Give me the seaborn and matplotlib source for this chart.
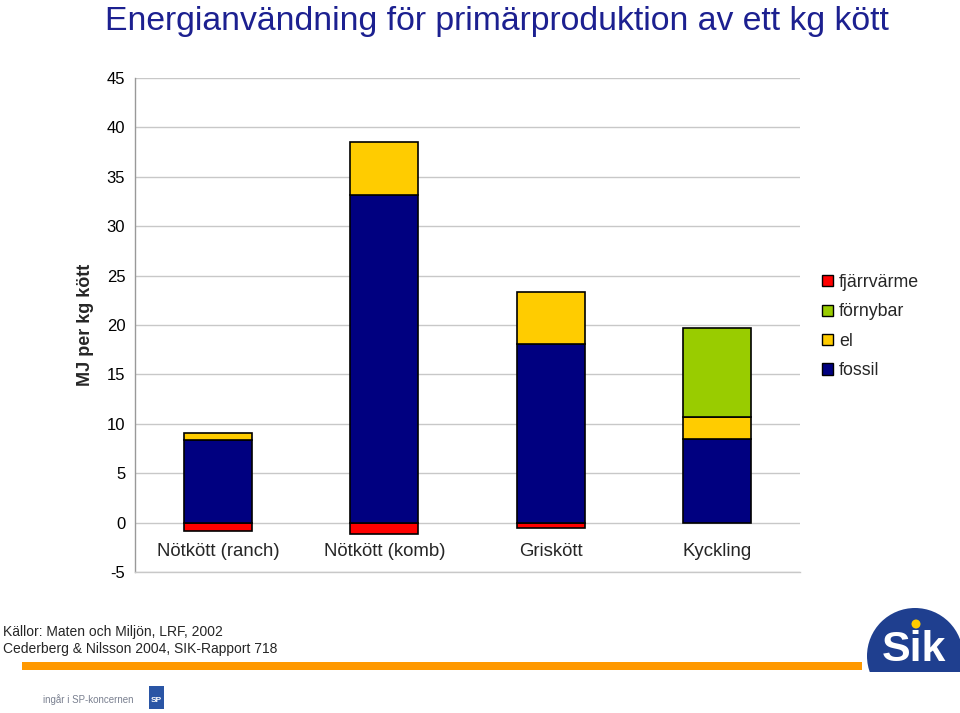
import matplotlib
matplotlib.use("Agg")
import matplotlib.pyplot as plt
import seaborn as sns
import pandas as pd
import numpy as np
from matplotlib.patches import Patch, Circle, Rectangle

# ---- data ----
categories = ["Nötkött (ranch)", "Nötkött (komb)", "Griskött", "Kyckling"]
fossil = [8.4, 33.2, 18.1, 8.5]
el = [0.7, 5.3, 5.2, 2.2]
fornybar = [0.0, 0.0, 0.0, 9.0]
fjarrvarme = [-0.8, -1.2, -0.5, 0.0]
series_names = ["fjärrvärme", "förnybar", "el", "fossil"]
yticks = list(range(-5, 50, 5))
title = "Energianvändning för primärproduktion av ett kg kött"
ylabel = "MJ per kg kött"
sources = ["Källor: Maten och Miljön, LRF, 2002",
           "Cederberg & Nilsson 2004, SIK-Rapport 718"]

colors = {"fossil": "#000080", "el": "#FFCC00", "förnybar": "#99CC00", "fjärrvärme": "#FF0000"}

sns.set_style("white")
plt.rcParams["font.family"] = ["Liberation Sans", "DejaVu Sans"]

df = pd.DataFrame({"cat": categories, "fossil": fossil, "el": el,
                   "fornybar": fornybar, "fjarrvarme": fjarrvarme})
df["el_bottom"] = df["fossil"]
df["forn_bottom"] = df["fossil"] + df["el"]

fig = plt.figure(figsize=(9.6, 7.13), dpi=100)

# background decoration axes in pixel coords
bg = fig.add_axes([0, 0, 1, 1], zorder=0)
bg.set_xlim(0, 960)
bg.set_ylim(713, 0)
bg.axis("off")

ax = fig.add_axes([135/960, 1-572/713, 665/960, 494/713], zorder=1)
ax.patch.set_alpha(0)

W = 0.41
common = dict(width=W, edgecolor="black", linewidth=1.2, order=categories, ax=ax, zorder=3)
sns.barplot(data=df, x="cat", y="fjarrvarme", color=colors["fjärrvärme"], saturation=1, **common)
sns.barplot(data=df, x="cat", y="fossil", color=colors["fossil"], saturation=1, **common)
sns.barplot(data=df, x="cat", y="el", bottom=df["el_bottom"].values, color=colors["el"], saturation=1, **common)
sns.barplot(data=df, x="cat", y="fornybar", bottom=df["forn_bottom"].values, color=colors["förnybar"], saturation=1, **common)
# remove zero-height patches
for p in ax.patches:
    if abs(p.get_height()) < 1e-9:
        p.set_visible(False)

ax.set_xlim(-0.5, 3.5)
ax.set_ylim(-5, 45)
ax.set_yticks(yticks)
ax.set_yticklabels([str(t) for t in yticks], fontsize=12)
ax.tick_params(axis="y", length=4, color="#999999", pad=3, labelcolor="black")
ax.set_xticks([])
ax.set_xlabel("")
ax.yaxis.grid(True, color="#c8c8c8", linewidth=1, zorder=0)
ax.set_axisbelow(True)
for s in ["top", "right"]:
    ax.spines[s].set_visible(False)
ax.spines["left"].set_color("#999999")
ax.spines["left"].set_linewidth(1)
ax.spines["bottom"].set_color("#c8c8c8")
ax.spines["bottom"].set_linewidth(1)

ax.set_ylabel(ylabel, fontsize=13, fontweight="bold")
ax.yaxis.set_label_coords(-0.061, 0.5)

for i, c in enumerate(categories):
    ax.text(i, -2.9, c, ha="center", va="center", fontsize=13.4)

handles = [Patch(facecolor=colors[n], edgecolor="black", linewidth=1) for n in series_names]
fig.legend(handles, series_names, loc="upper left", bbox_to_anchor=(806/960, 1-258/713),
           frameon=False, fontsize=12.8, handlelength=0.6, handleheight=0.6,
           handletextpad=0.35, labelspacing=0.7)

fig.text(105/960, 1-30/713, title, fontsize=24.3, color="#1c2090", ha="left", va="baseline")

bg.text(3, 632, sources[0], fontsize=10, ha="left", va="center")
bg.text(3, 649, sources[1], fontsize=10, ha="left", va="center")

# orange rule
bg.add_patch(Rectangle((22, 662), 840, 8, color="#FF9900", lw=0))
# Sik logo
logo = Circle((915, 656), 48, color="#1f3f8f", lw=0)
bg.add_patch(logo)
logo.set_clip_path(Rectangle((860, 600), 100, 72, transform=bg.transData))
bg.text(914, 650, "Sik", fontsize=31, fontweight="bold", color="white", ha="center", va="center")
bg.add_patch(Circle((916, 624), 4.5, color="#FFCC00", lw=0))
# SP group footer
bg.text(43, 700, "ingår i SP-koncernen", fontsize=7, color="#7a8090", ha="left", va="center")
bg.add_patch(Rectangle((149, 686), 15, 23, color="#2a55a5", lw=0))
bg.text(156.5, 700, "SP", fontsize=6, color="white", ha="center", va="center", fontweight="bold")

fig.savefig("out.png", dpi=100)
